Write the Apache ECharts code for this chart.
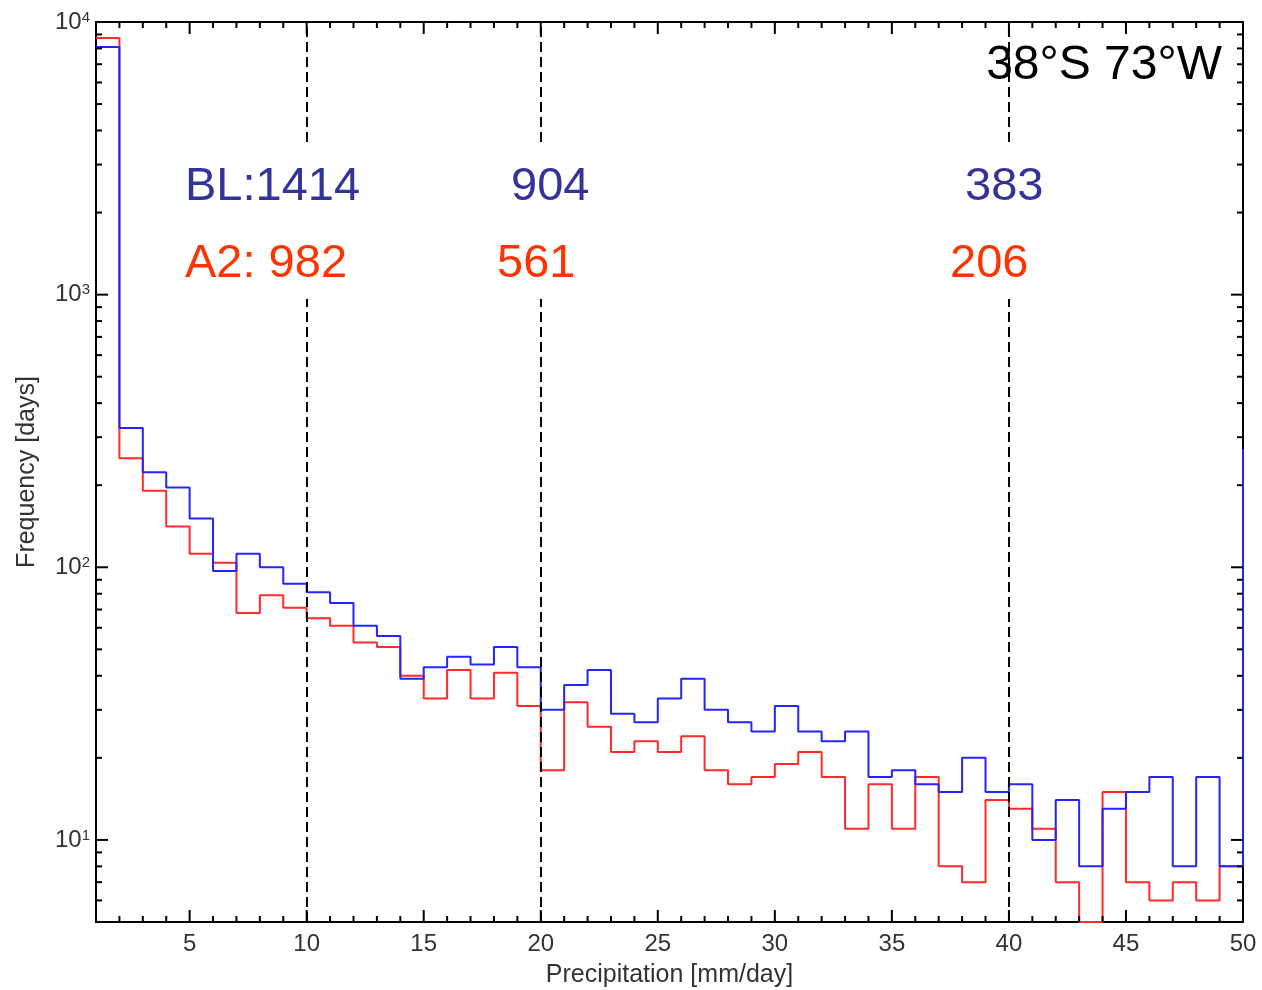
<!DOCTYPE html>
<html>
<head>
<meta charset="utf-8">
<script src="https://cdn.jsdelivr.net/npm/echarts@6/dist/echarts.min.js"></script>
<style>
  html, body { margin: 0; padding: 0; background: #fff; }
</style>
</head>
<body>
<div id="main" style="width: 1262px; height: 990px;"></div>
<script>
// bin start of each 1 mm/day precipitation bin
var binStart = [1, 2, 3, 4, 5, 6, 7, 8, 9, 10, 11, 12, 13, 14, 15, 16, 17, 18, 19, 20,
  21, 22, 23, 24, 25, 26, 27, 28, 29, 30, 31, 32, 33, 34, 35, 36, 37, 38, 39, 40,
  41, 42, 43, 44, 45, 46, 47, 48, 49, 50];
// BL (baseline) frequency, days
var blFreq = [8100, 324, 223, 196, 151, 97, 112, 100, 87, 81, 74, 61, 56, 39, 43, 47, 44, 51, 43, 30,
  37, 42, 29, 27, 33, 39, 30, 27, 25, 31, 25, 23, 25, 17, 18, 16, 15, 20, 15, 16,
  10, 14, 8, 13, 15, 17, 8, 17, 8, 270];
// A2 scenario frequency, days
var a2Freq = [8730, 251, 191, 141, 112, 104, 68, 79, 71, 65, 61, 53, 51, 40, 33, 42, 33, 41, 31, 18,
  32, 26, 21, 23, 21, 24, 18, 16, 17, 19, 21, 17, 11, 16, 11, 17, 8, 7, 14, 13,
  11, 7, 5, 15, 7, 6, 7, 6, 8];
// thresholds marked with dashed lines
var thresholds = [10, 20, 40];
var blCounts = ['BL:1414', '904', '383'];
var a2Counts = ['A2: 982', '561', '206'];
// axis ticks
var xMajorTicks = [5, 10, 15, 20, 25, 30, 35, 40, 45];
var xMinorTicks = [2, 3, 4, 6, 7, 8, 9, 11, 12, 13, 14, 16, 17, 18, 19, 21, 22, 23, 24, 26, 27, 28, 29,
  31, 32, 33, 34, 36, 37, 38, 39, 41, 42, 43, 44, 46, 47, 48, 49];
var yMajorTicks = [10, 100, 1000];
var yMinorTicks = [6, 7, 8, 9, 20, 30, 40, 50, 60, 70, 80, 90, 200, 300, 400, 500, 600, 700, 800, 900,
  2000, 3000, 4000, 5000, 6000, 7000, 8000, 9000];

var xMin = 1, xMax = 50, yMin = 5, yMax = 10000;
var FONT = '"Liberation Sans", Arial, sans-serif';

// step histogram: horizontal over each bin, closing point at the end of the last bin
function steps(freq) {
  var pts = [];
  for (var i = 0; i < freq.length; i++) {
    pts.push([binStart[i], freq[i]]);
  }
  pts.push([binStart[freq.length - 1] + 1, freq[freq.length - 1]]);
  return pts;
}

var xTickData = [];
xMajorTicks.forEach(function (v) { xTickData.push([v, yMin, 1]); });
xMinorTicks.forEach(function (v) { xTickData.push([v, yMin, 0]); });
var yTickData = [];
yMajorTicks.forEach(function (v) { yTickData.push([xMin, v, 1]); });
yMinorTicks.forEach(function (v) { yTickData.push([xMin, v, 0]); });

var tickStyle = { stroke: '#000', lineWidth: 2 };

function renderXTick(params, api) {
  var cs = params.coordSys;
  var px = api.coord([api.value(0), api.value(1)])[0];
  var len = api.value(2) ? 12 : 6;
  return {
    type: 'group',
    children: [
      { type: 'line', shape: { x1: px, y1: cs.y + cs.height, x2: px, y2: cs.y + cs.height - len }, style: tickStyle },
      { type: 'line', shape: { x1: px, y1: cs.y, x2: px, y2: cs.y + len }, style: tickStyle }
    ]
  };
}

function renderYTick(params, api) {
  var cs = params.coordSys;
  var py = api.coord([api.value(0), api.value(1)])[1];
  var len = api.value(2) ? 12 : 6;
  return {
    type: 'group',
    children: [
      { type: 'line', shape: { x1: cs.x, y1: py, x2: cs.x + len, y2: py }, style: tickStyle },
      { type: 'line', shape: { x1: cs.x + cs.width, y1: py, x2: cs.x + cs.width - len, y2: py }, style: tickStyle }
    ]
  };
}

var myChart = echarts.init(document.getElementById('main'));

// annotation positions (left edge of each column of counts)
var blLeft = [185, 511, 965];
var a2Left = [185, 497, 950];
var coverBox = [[178, 372], [490, 600], [943, 1050]];

var graphics = [];
for (var i = 0; i < thresholds.length; i++) {
  graphics.push({
    type: 'rect', z: 10,
    shape: { x: coverBox[i][0], y: 143, width: coverBox[i][1] - coverBox[i][0], height: 156 },
    style: { fill: '#fff' }
  });
  graphics.push({
    type: 'text', z: 11, x: blLeft[i], y: 187,
    style: { text: blCounts[i], fill: '#333399', font: '47px ' + FONT, textAlign: 'left', textVerticalAlign: 'middle' }
  });
  graphics.push({
    type: 'text', z: 11, x: a2Left[i], y: 264,
    style: { text: a2Counts[i], fill: '#ff3300', font: '47px ' + FONT, textAlign: 'left', textVerticalAlign: 'middle' }
  });
}
graphics.push({
  type: 'text', z: 11, x: 1222, y: 66,
  style: { text: '38°S 73°W', fill: '#000', font: '48px ' + FONT, textAlign: 'right', textVerticalAlign: 'middle' }
});

var option = {
  animation: false,
  backgroundColor: '#fff',
  grid: {
    left: 96, right: 19, top: 22, bottom: 68,
    outerBoundsMode: 'none',
    containLabel: false,
    show: true, borderColor: '#000', borderWidth: 2, backgroundColor: 'transparent'
  },
  xAxis: {
    type: 'value',
    min: xMin,
    max: xMax,
    splitNumber: 10,
    name: 'Precipitation [mm/day]',
    nameLocation: 'middle',
    nameGap: 41,
    nameTextStyle: { fontSize: 25, color: '#333', fontFamily: FONT },
    axisLine: { show: false },
    axisTick: { show: false },
    splitLine: { show: false },
    axisLabel: {
      fontSize: 24, color: '#333', fontFamily: FONT, margin: 10,
      formatter: function (v) { return v % 5 === 0 ? String(v) : ''; }
    }
  },
  yAxis: {
    type: 'log',
    logBase: 10,
    min: yMin,
    max: yMax,
    name: 'Frequency [days]',
    nameLocation: 'middle',
    nameGap: 56,
    nameTextStyle: { fontSize: 25, color: '#333', fontFamily: FONT },
    axisLine: { show: false },
    axisTick: { show: false },
    splitLine: { show: false },
    axisLabel: {
      margin: 6,
      formatter: function (v) {
        var e = Math.log(v) / Math.LN10;
        if (Math.abs(e - Math.round(e)) > 1e-6) return '';
        return '{b|10}{s|' + Math.round(e) + '}';
      },
      rich: {
        b: { fontSize: 24, color: '#333', fontFamily: FONT, lineHeight: 24 },
        s: { fontSize: 15, color: '#333', fontFamily: FONT, verticalAlign: 'top', lineHeight: 15 }
      }
    }
  },
  graphic: graphics,
  series: [
    {
      name: 'A2',
      type: 'line',
      step: 'end',
      data: steps(a2Freq),
      symbol: 'none',
      lineStyle: { color: '#ff2a2a', width: 2 },
      z: 3,
      markLine: {
        silent: true,
        symbol: 'none',
        label: { show: false },
        lineStyle: { color: '#000', width: 2, type: [10, 5] },
        data: thresholds.map(function (t) { return { xAxis: t }; })
      }
    },
    {
      name: 'BL',
      type: 'line',
      step: 'end',
      data: steps(blFreq),
      symbol: 'none',
      lineStyle: { color: '#2424ff', width: 2 },
      z: 4
    },
    {
      type: 'custom',
      renderItem: renderXTick,
      data: xTickData,
      silent: true,
      z: 5
    },
    {
      type: 'custom',
      renderItem: renderYTick,
      data: yTickData,
      silent: true,
      z: 5
    }
  ]
};

myChart.setOption(option);
</script>
</body>
</html>
